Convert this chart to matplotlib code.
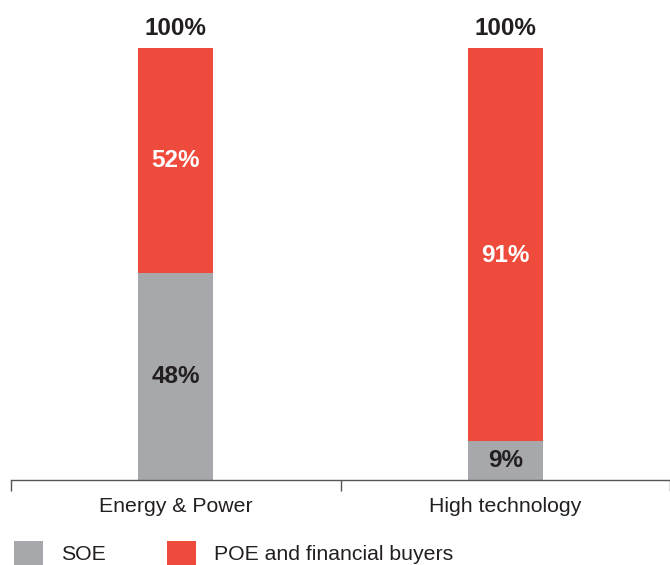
import numpy as np
import matplotlib
matplotlib.use("Agg")
import matplotlib.pyplot as plt

plt.rcParams["font.family"] = ["Liberation Sans", "DejaVu Sans"]

categories = ["Energy & Power", "High technology"]
soe = np.array([48, 9])
poe = np.array([52, 91])
series_names = ["SOE", "POE and financial buyers"]

C_GREY = "#A7A8AB"
C_RED = "#EF4B3D"
C_TEXT = "#231F20"

fig = plt.figure(figsize=(6.7, 5.65), dpi=100)
ax = fig.add_axes([11 / 670, 85 / 565, 659 / 670, 432 / 565])

x = np.arange(len(categories))
w = 0.228
b1 = ax.bar(x, soe, w, color=C_GREY, label=series_names[0])
b2 = ax.bar(x, poe, w, bottom=soe, color=C_RED, label=series_names[1])

for i in range(len(categories)):
    ax.text(x[i], soe[i] / 2, f"{soe[i]}%", ha="center", va="center",
            fontsize=17.5, fontweight="bold", color=C_TEXT)
    # the tall red segment label sits a bit below its middle in the original
    y_red = soe[i] + poe[i] / 2 - (2.5 if poe[i] > 80 else 0)
    ax.text(x[i], y_red, f"{poe[i]}%", ha="center", va="center",
            fontsize=17.5, fontweight="bold", color="white")
    ax.text(x[i], soe[i] + poe[i] + 4.4, f"{soe[i] + poe[i]}%", ha="center",
            va="center", fontsize=17.5, fontweight="bold", color=C_TEXT,
            clip_on=False)

ax.set_xlim(-0.5, 1.479)
ax.set_ylim(0, 100)
for s in ["top", "right", "left"]:
    ax.spines[s].set_visible(False)
ax.spines["bottom"].set_color("#555555")
ax.spines["bottom"].set_linewidth(1.0)
ax.set_yticks([])
ax.set_xticks([-0.5, 0.5, 1.5])
ax.set_xticklabels([])
ax.set_xticks(x, minor=True)
ax.set_xticklabels(categories, minor=True, fontsize=15.3, color=C_TEXT)
ax.tick_params(axis="x", which="major", length=8, direction="out",
               color="#555555", width=1.0)
ax.tick_params(axis="x", which="minor", length=0, pad=12)

fig.legend(handles=[b1, b2], loc="center left", bbox_to_anchor=(14 / 670, 1 - 553 / 565),
           ncol=2, frameon=False, fontsize=15.3, handlelength=1.35, handleheight=1.3,
           handletextpad=0.85, columnspacing=2.9, borderpad=0, borderaxespad=0,
           labelcolor=C_TEXT)

fig.savefig("out.png", dpi=100)
